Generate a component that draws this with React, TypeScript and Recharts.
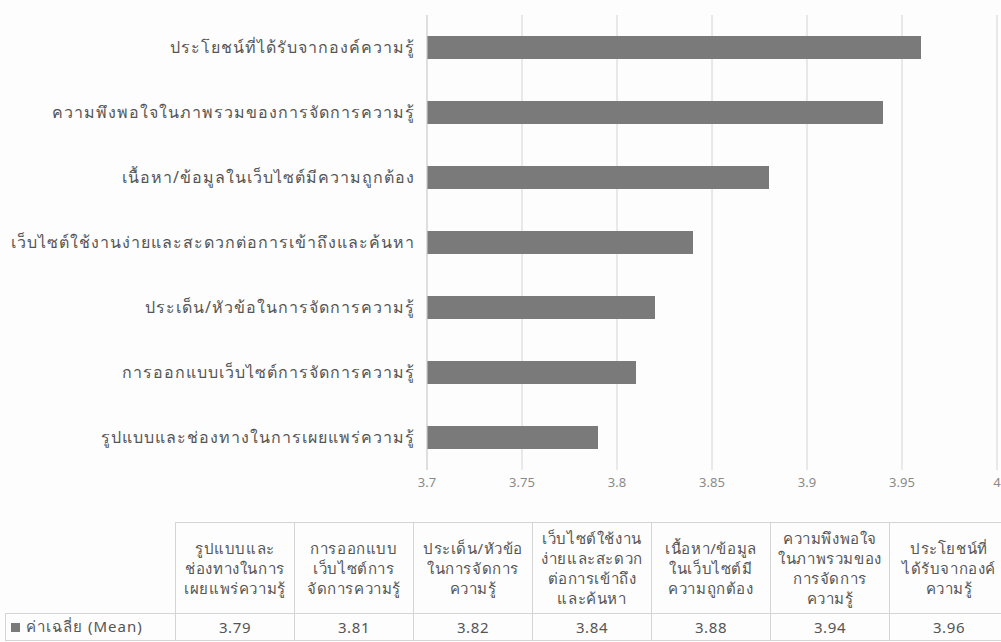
import { BarChart, Bar, XAxis, YAxis, CartesianGrid } from "recharts";

// ข้อมูลเรียงตามตาราง (Excel วางหมวดแรกไว้ล่างสุด)
const categories = [
  "รูปแบบและช่องทางในการเผยแพร่ความรู้",
  "การออกแบบเว็บไซต์การจัดการความรู้",
  "ประเด็น/หัวข้อในการจัดการความรู้",
  "เว็บไซต์ใช้งานง่ายและสะดวกต่อการเข้าถึงและค้นหา",
  "เนื้อหา/ข้อมูลในเว็บไซต์มีความถูกต้อง",
  "ความพึงพอใจในภาพรวมของการจัดการความรู้",
  "ประโยชน์ที่ได้รับจากองค์ความรู้",
];

const meanValues = [3.79, 3.81, 3.82, 3.84, 3.88, 3.94, 3.96];

const tableHeaders = [
  ["รูปแบบและ", "ช่องทางในการ", "เผยแพร่ความรู้"],
  ["การออกแบบ", "เว็บไซต์การ", "จัดการความรู้"],
  ["ประเด็น/หัวข้อ", "ในการจัดการ", "ความรู้"],
  ["เว็บไซต์ใช้งาน", "ง่ายและสะดวก", "ต่อการเข้าถึง", "และค้นหา"],
  ["เนื้อหา/ข้อมูล", "ในเว็บไซต์มี", "ความถูกต้อง"],
  ["ความพึงพอใจ", "ในภาพรวมของ", "การจัดการ", "ความรู้"],
  ["ประโยชน์ที่", "ได้รับจากองค์", "ความรู้"],
];

const seriesName = "ค่าเฉลี่ย (Mean)";
const xTicks = [3.7, 3.75, 3.8, 3.85, 3.9, 3.95, 4];

const FONT = "'Noto Sans', 'DejaVu Sans', sans-serif";
const BAR = "#7a7a7a";
const GRID = "#d4d4d4";
const TEXT = "#555555";

const data = categories.map((name, i) => ({ name, mean: meanValues[i] }));

const COL_LEFT = 175;
const COL_W = 119;

export default function App() {
  return (
    <div
      style={{
        position: "absolute",
        left: 0,
        top: 0,
        width: 1001,
        height: 642,
        overflow: "hidden",
        background: "#fdfdfd",
        fontFamily: FONT,
      }}
    >
      <BarChart
        width={1001}
        height={500}
        data={data}
        layout="vertical"
        margin={{ top: 15, right: 4, bottom: 0, left: 0 }}
        barSize={23}
      >
        <CartesianGrid horizontal={false} stroke={GRID} />
        <XAxis
          type="number"
          domain={[3.7, 4]}
          ticks={xTicks}
          interval={0}
          axisLine={false}
          tickLine={false}
          height={30}
          tick={{ fill: "#8a8a8a", fontSize: 13, fontFamily: FONT }}
          tickFormatter={(v: number) => String(v)}
        />
        <YAxis
          type="category"
          dataKey="name"
          reversed
          width={427}
          axisLine={{ stroke: GRID }}
          tickLine={false}
          tickMargin={6}
          tick={{ fill: TEXT, fontSize: 16, letterSpacing: 1, fontFamily: FONT }}
        />
        <Bar dataKey="mean" fill={BAR} isAnimationActive={false} />
      </BarChart>

      {/* data table ใต้กราฟ */}
      <div
        style={{
          position: "absolute",
          left: 0,
          top: 522,
          fontSize: 15,
          letterSpacing: 0.6,
          color: TEXT,
        }}
      >
        {tableHeaders.map((lines, i) => (
          <div
            key={"h" + i}
            style={{
              position: "absolute",
              left: COL_LEFT + i * COL_W,
              top: 0,
              width: COL_W,
              height: 91,
              boxSizing: "border-box",
              borderTop: `1px solid ${GRID}`,
              borderLeft: `1px solid ${GRID}`,
              display: "flex",
              flexDirection: "column",
              justifyContent: "center",
              alignItems: "center",
              lineHeight: "20px",
              whiteSpace: "nowrap",
            }}
          >
            {lines.map((l, j) => (
              <div key={j}>{l}</div>
            ))}
          </div>
        ))}
        <div
          style={{
            position: "absolute",
            left: 5,
            top: 91,
            width: COL_LEFT - 5,
            height: 28,
            boxSizing: "border-box",
            borderTop: `1px solid ${GRID}`,
            borderLeft: `1px solid ${GRID}`,
            borderBottom: `1px solid ${GRID}`,
            display: "flex",
            alignItems: "center",
            paddingLeft: 5,
            whiteSpace: "nowrap",
            letterSpacing: 1,
          }}
        >
          <span
            style={{
              display: "inline-block",
              width: 9,
              height: 9,
              background: BAR,
              marginRight: 6,
            }}
          />
          {seriesName}
        </div>
        {meanValues.map((v, i) => (
          <div
            key={"v" + i}
            style={{
              position: "absolute",
              left: COL_LEFT + i * COL_W,
              top: 91,
              width: COL_W,
              height: 28,
              boxSizing: "border-box",
              borderTop: `1px solid ${GRID}`,
              borderLeft: `1px solid ${GRID}`,
              borderBottom: `1px solid ${GRID}`,
              display: "flex",
              alignItems: "center",
              justifyContent: "center",
            }}
          >
            {v.toFixed(2)}
          </div>
        ))}
      </div>
    </div>
  );
}
